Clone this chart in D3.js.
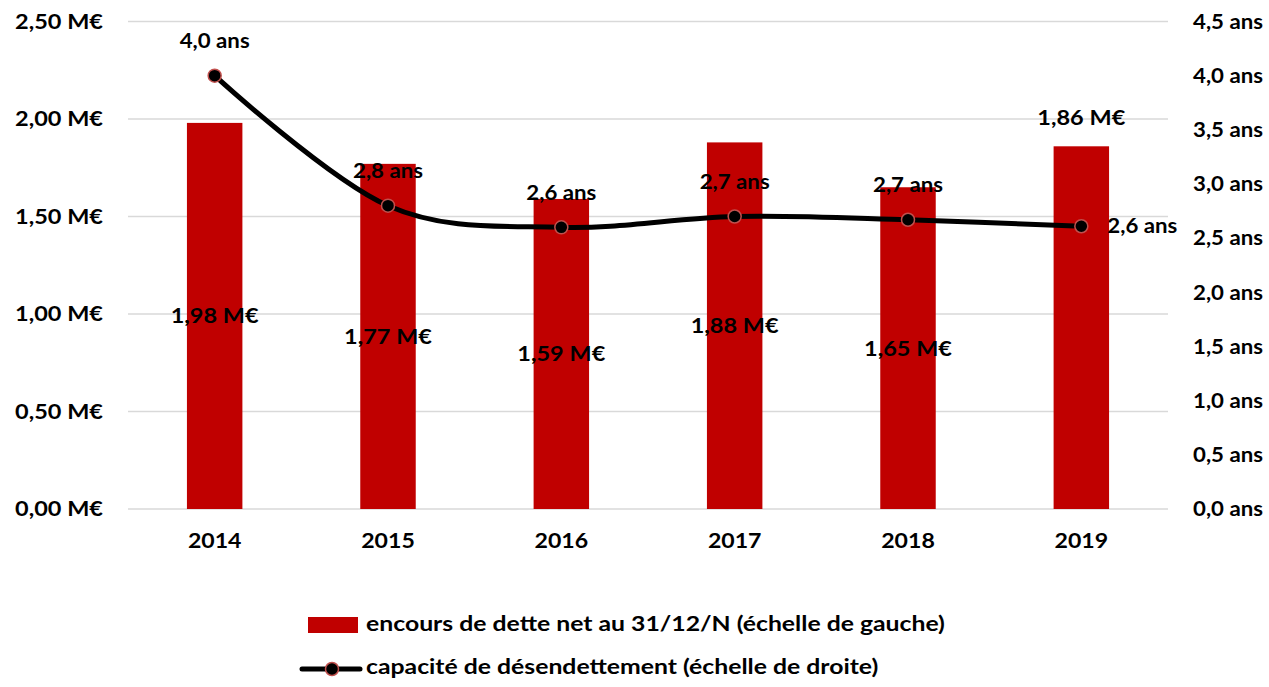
<!DOCTYPE html>
<html>
<head>
<meta charset="utf-8">
<script src="https://cdn.jsdelivr.net/npm/d3@7"></script>
<style>
  body { margin: 0; background: #fff; }
  svg text { font-family: Lato, "Open Sans", sans-serif; font-weight: 700; fill: #000; }
</style>
</head>
<body>
<svg id="chart" width="1269" height="687"></svg>
<script>
// Data
const years = ["2014", "2015", "2016", "2017", "2018", "2019"];
const debt = [1.98, 1.77, 1.59, 1.88, 1.65, 1.86]; // M€, left scale
const capacity = [4.0, 2.8, 2.6, 2.7, 2.67, 2.61]; // years, right scale
const leftTicks = [0, 0.5, 1, 1.5, 2, 2.5];
const rightTicks = [0, 0.5, 1, 1.5, 2, 2.5, 3, 3.5, 4, 4.5];
const legendLabels = [
  "encours de dette net au 31/12/N (échelle de gauche)",
  "capacité de désendettement (échelle de droite)",
];

const BAR_COLOR = "#c00000";
const MARKER_STROKE = "#c0504d";
const GRID_COLOR = "#d9d9d9";
const FONT_SIZE = 21;
// the source font is wider than Lato, stretch text a bit
const STRETCH_EUR = 1.12;
const STRETCH_ANS = 1.06;
const STRETCH_YEAR = 1.1;
const STRETCH_LEGEND = 1.18;

// Plot area
const LEFT = 128;
const RIGHT = 1168;
const TOP = 21.5;
const BOTTOM = 509;

const svg = d3.select("#chart");

const fr2 = (v) => d3.format(".2f")(v).replace(".", ",");
const fr1 = (v) => d3.format(".1f")(v).replace(".", ",");

// places a text at (px, py) and stretches it horizontally around that point
function place(sel, px, py, k) {
  sel
    .attr("x", 0)
    .attr("y", 0)
    .attr("transform", (d, i) => `translate(${px(d, i)},${py(d, i)}) scale(${k},1)`);
}

const x = d3
  .scaleBand()
  .domain(years)
  .range([LEFT, RIGHT])
  .paddingInner(0.68)
  .paddingOuter(0.34);

const yLeft = d3.scaleLinear().domain([0, 2.5]).range([BOTTOM, TOP]);
const yRight = d3.scaleLinear().domain([0, 4.5]).range([BOTTOM, TOP]);

const cx = (year) => x(year) + x.bandwidth() / 2;

// gridlines
svg
  .append("g")
  .selectAll("line")
  .data(leftTicks)
  .join("line")
  .attr("x1", LEFT)
  .attr("x2", RIGHT)
  .attr("y1", (d) => yLeft(d))
  .attr("y2", (d) => yLeft(d))
  .attr("stroke", GRID_COLOR)
  .attr("stroke-width", 1.5);

function styleAxis(g, k) {
  g.select(".domain").remove();
  g.selectAll("text")
    .attr("font-size", FONT_SIZE)
    .attr("font-family", null)
    .attr("transform", `scale(${k},1)`);
}

// left axis
svg
  .append("g")
  .attr("transform", `translate(${LEFT - 25},0)`)
  .call(
    d3
      .axisLeft(yLeft)
      .tickValues(leftTicks)
      .tickSize(0)
      .tickPadding(0)
      .tickFormat((d) => fr2(d) + " M€")
  )
  .call(styleAxis, STRETCH_EUR);

// right axis
svg
  .append("g")
  .attr("transform", `translate(${RIGHT + 25},0)`)
  .call(
    d3
      .axisRight(yRight)
      .tickValues(rightTicks)
      .tickSize(0)
      .tickPadding(0)
      .tickFormat((d) => fr1(d) + " ans")
  )
  .call(styleAxis, STRETCH_ANS);

// bottom axis
svg
  .append("g")
  .attr("transform", `translate(0,${BOTTOM + 24})`)
  .call(d3.axisBottom(x).tickSize(0).tickPadding(0))
  .call(styleAxis, STRETCH_YEAR);

// bars
svg
  .append("g")
  .selectAll("rect")
  .data(debt)
  .join("rect")
  .attr("x", (d, i) => x(years[i]))
  .attr("y", (d) => yLeft(d))
  .attr("width", x.bandwidth())
  .attr("height", (d) => BOTTOM - yLeft(d))
  .attr("fill", BAR_COLOR);

// bar labels: centred in the bar, last one above it
const outsideLabel = new Set(["2019"]);
svg
  .append("g")
  .selectAll("text")
  .data(debt)
  .join("text")
  .call(
    place,
    (d, i) => cx(years[i]),
    (d, i) =>
      outsideLabel.has(years[i]) ? yLeft(d) - 27 : (yLeft(d) + BOTTOM) / 2 + 2,
    STRETCH_EUR
  )
  .attr("text-anchor", "middle")
  .attr("dominant-baseline", "middle")
  .attr("font-size", FONT_SIZE)
  .text((d) => fr2(d) + " M€");

// line
const line = d3
  .line()
  .x((d, i) => cx(years[i]))
  .y((d) => yRight(d))
  .curve(d3.curveCatmullRom.alpha(0));

svg
  .append("path")
  .datum(capacity)
  .attr("d", line)
  .attr("fill", "none")
  .attr("stroke", "#000")
  .attr("stroke-width", 5)
  .attr("stroke-linecap", "round");

svg
  .append("g")
  .selectAll("circle")
  .data(capacity)
  .join("circle")
  .attr("cx", (d, i) => cx(years[i]))
  .attr("cy", (d) => yRight(d))
  .attr("r", 6.5)
  .attr("fill", "#000")
  .attr("stroke", MARKER_STROKE)
  .attr("stroke-width", 1.5);

// line labels: above the point, last one to the right
const last = years.length - 1;
svg
  .append("g")
  .selectAll("text")
  .data(capacity)
  .join("text")
  .call(
    place,
    (d, i) => (i === last ? cx(years[i]) + 26 : cx(years[i])),
    (d, i) => (i === last ? yRight(d) + 1 : yRight(d) - 33),
    STRETCH_ANS
  )
  .attr("text-anchor", (d, i) => (i === last ? "start" : "middle"))
  .attr("dominant-baseline", "middle")
  .attr("font-size", FONT_SIZE)
  .text((d) => fr1(d) + " ans");

// legend
const legend = svg.append("g");
legend
  .append("rect")
  .attr("x", 308)
  .attr("y", 617)
  .attr("width", 50)
  .attr("height", 16)
  .attr("fill", BAR_COLOR);
legend
  .append("line")
  .attr("x1", 302)
  .attr("x2", 360)
  .attr("y1", 669)
  .attr("y2", 669)
  .attr("stroke", "#000")
  .attr("stroke-width", 5)
  .attr("stroke-linecap", "round");
legend
  .append("circle")
  .attr("cx", 332)
  .attr("cy", 669)
  .attr("r", 6.5)
  .attr("fill", "#000")
  .attr("stroke", MARKER_STROKE)
  .attr("stroke-width", 1.5);
legend
  .selectAll("text")
  .data(legendLabels)
  .join("text")
  .call(
    place,
    () => 366,
    (d, i) => 626 + i * 43,
    STRETCH_LEGEND
  )
  .attr("dominant-baseline", "middle")
  .attr("font-size", FONT_SIZE)
  .text((d) => d);
</script>
</body>
</html>
